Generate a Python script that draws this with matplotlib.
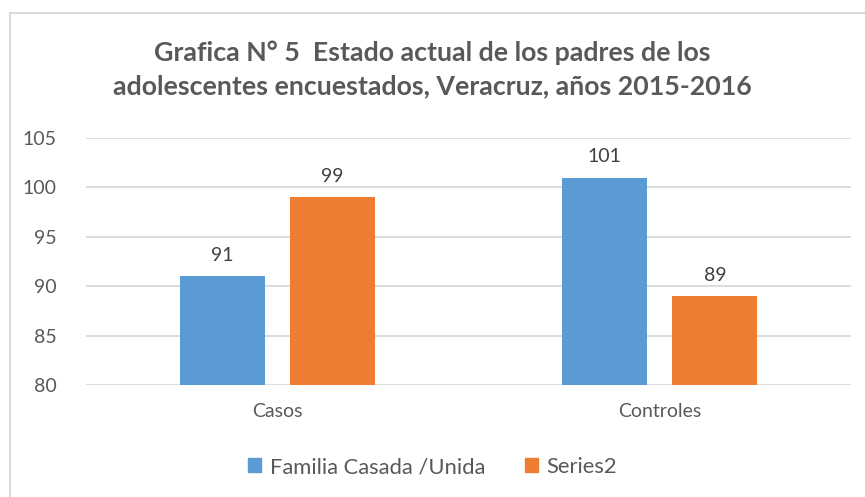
import matplotlib
matplotlib.use('Agg')
import matplotlib.pyplot as plt
import numpy as np
from matplotlib.patches import Patch

plt.rcParams['font.family'] = ['Lato', 'DejaVu Sans']

categories = ['Casos', 'Controles']
familia = [91, 101]
series2 = [99, 89]
series_names = ['Familia Casada /Unida', 'Series2']
yticks = [80, 85, 90, 95, 100, 105]

blue = '#5B9BD5'
orange = '#ED7D31'
txt = '#595959'

fig = plt.figure(figsize=(8.65, 4.97), dpi=100)
ax = fig.add_axes([86 / 865, 1 - 385 / 497, (851 - 86) / 865, (385 - 138) / 497])

# chart frame (Excel style, cut off on the right and bottom)
frame = plt.Rectangle((10 / 865, -0.05), 1.2, 1 - 13 / 497 + 0.05, transform=fig.transFigure,
                      fill=False, edgecolor='#D9D9D9', linewidth=1.5, zorder=0)
fig.patches.append(frame)

x = np.arange(len(categories))
w = 0.2225
off = 0.144
b1 = ax.bar(x - off, np.array(familia) - 80, w, bottom=80, color=blue, zorder=3)
b2 = ax.bar(x + off, np.array(series2) - 80, w, bottom=80, color=orange, zorder=3)

for bars, vals in ((b1, familia), (b2, series2)):
    for r, v in zip(bars, vals):
        ax.annotate(str(v), (r.get_x() + r.get_width() / 2, v), xytext=(0, 9),
                    textcoords='offset points', ha='center', va='bottom',
                    fontsize=14, color='#404040')

ax.set_xlim(-0.5, 1.5)
ax.set_ylim(80, 105)
ax.set_yticks(yticks)
ax.set_xticks(x)
ax.set_xticklabels(categories)
ax.yaxis.grid(True, color='#D9D9D9', linewidth=1.3, zorder=0)
ax.set_axisbelow(True)
for s in ax.spines.values():
    s.set_visible(False)
ax.tick_params(axis='both', length=0, labelsize=14, labelcolor=txt)
ax.tick_params(axis='y', pad=21)
ax.tick_params(axis='x', pad=13)

fig.text(0.5, 1 - 69 / 497, 'Grafica N° 5  Estado actual de los padres de los\nadolescentes encuestados, Veracruz, años 2015-2016',
         ha='center', va='center', fontsize=19.3, fontweight='bold', color=txt, linespacing=1.45)

handles = [Patch(color=blue), Patch(color=orange)]
fig.legend(handles, series_names, loc='center', bbox_to_anchor=(0.5, 1 - 467 / 497), ncol=2,
           frameon=False, fontsize=15.8, labelcolor=txt, handlelength=0.6, handleheight=0.6,
           handletextpad=0.4, columnspacing=1.8)

fig.savefig('out.png', dpi=100)
